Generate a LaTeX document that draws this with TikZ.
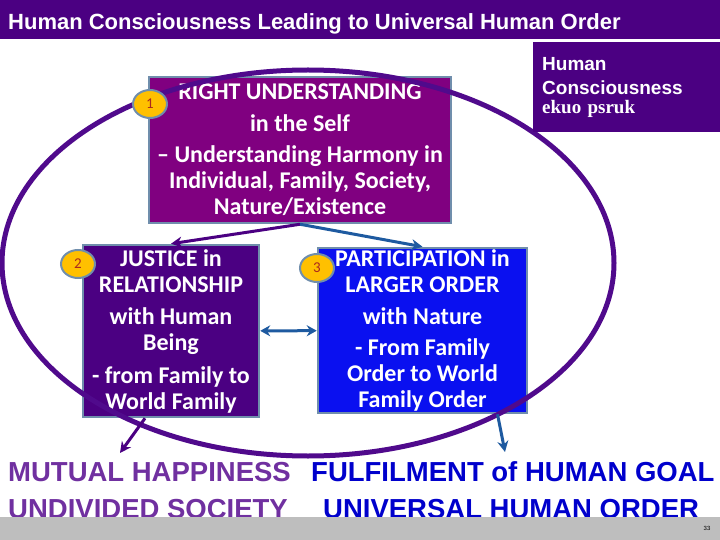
\documentclass[tikz,border=0pt]{standalone}
\usepackage{fontspec}
\setmainfont{Liberation Sans}
\newfontfamily\calibri{Carlito}
\newfontfamily\hindiserif{Liberation Serif}
\usetikzlibrary{positioning,arrows.meta,shapes.geometric}

\definecolor{barIndigo}{RGB}{75,0,130}
\definecolor{ringIndigo}{RGB}{80,10,140}
\definecolor{boxPurple}{RGB}{128,0,128}
\definecolor{boxBlue}{RGB}{10,16,240}
\definecolor{rimGray}{RGB}{112,142,172}
\definecolor{badgeGold}{RGB}{255,192,0}
\definecolor{numRed}{RGB}{170,40,30}
\definecolor{arrowBlue}{RGB}{30,90,160}
\definecolor{txtPurple}{RGB}{112,48,160}
\definecolor{txtBlue}{RGB}{0,0,204}
\definecolor{footGray}{RGB}{190,190,190}

\begin{document}
\begin{tikzpicture}[x=1pt, y=-1pt,
    box/.style={draw=rimGray, line width=2.5pt, text=white, align=center, inner sep=0pt,
                font=\calibri\bfseries\fontsize{24}{26}\selectfont},
    badge/.style={ellipse, draw=rimGray, line width=2pt, fill=badgeGold, text=numRed,
                  minimum width=34pt, minimum height=28pt, inner sep=0pt,
                  font=\calibri\fontsize{15}{15}\selectfont},
    link/.style={line width=3pt, -{Stealth[length=11pt,width=11pt]}},
    outcome/.style={anchor=base west, inner sep=0pt,
                    font=\bfseries\fontsize{27.5}{28}\selectfont}]
  \useasboundingbox (0,0) rectangle (720,540);

  % 标题栏
  \fill[barIndigo] (0,0) rectangle (720,39);
  \node[anchor=base west, inner sep=0pt, text=white, font=\bfseries\fontsize{22}{22}\selectfont]
    (title) at (8,30) {Human Consciousness Leading to Universal Human Order};

  % 1. 正确理解
  \node[box, fill=boxPurple, minimum width=302pt, minimum height=146pt] (understand) at (300,150)
    {RIGHT UNDERSTANDING\\[6pt] in the Self\\[5pt] – Understanding Harmony in\\ Individual, Family, Society,\\ Nature/Existence};

  % 2. 关系中的公正  3. 参与大秩序
  \node[box, fill=barIndigo, minimum width=176pt, minimum height=172pt] (justice) at (171,331)
    {JUSTICE in\\ RELATIONSHIP\\[6pt] with Human\\ Being\\[7pt] - from Family to\\ World Family};
  \node[box, fill=boxBlue, minimum width=209pt, minimum height=165pt] (participate) at (422.5,330.5)
    {PARTICIPATION in\\ LARGER ORDER\\[6pt] with Nature\\[5pt] - From Family\\ Order to World\\ Family Order};

  % 大椭圆
  \draw[ringIndigo, line width=5pt] (308,263) ellipse [x radius=306pt, y radius=193pt];

  % 编号
  \node[badge] (one) at (150,104) {1};
  \node[badge] (two) at (78,264) {2};
  \node[badge] (three) at (317,268) {3};

  % 右上角说明框
  \node[anchor=north west, fill=barIndigo, minimum width=187pt, minimum height=90pt, text width=170pt,
        align=left, inner xsep=9pt, text=white, font=\bfseries\fontsize{19}{24}\selectfont]
    (hcbox) at (533,42) {Human\\ Consciousness\\[-5pt] {\hindiserif ekuo psruk}};

  % 箭头
  \coordinate (happyTip) at (120,453);
  \coordinate (goalTip) at (505,452);
  \draw[link, barIndigo] (understand.south) -- (justice.north);
  \draw[link, arrowBlue] (understand.south) -- (participate.north);
  \draw[line width=3pt, arrowBlue, {Stealth[length=10pt,width=11pt]}-{Stealth[length=10pt,width=11pt]}]
    (justice) -- (participate);
  \draw[link, barIndigo] ([xshift=-26pt]justice.south) -- (happyTip);
  \draw[link, arrowBlue] ([xshift=75pt]participate.south) -- (goalTip);

  % 结果文字
  \node[outcome, text=txtPurple] (happy) at (8,481) {MUTUAL HAPPINESS};
  \node[outcome, text=txtPurple] (society) at (8,518) {UNDIVIDED SOCIETY};
  \node[outcome, text=txtBlue] (goal) at (311,481) {FULFILMENT of HUMAN GOAL};
  \node[outcome, text=txtBlue] (order) at (323,518) {UNIVERSAL HUMAN ORDER};

  % 页脚
  \fill[footGray] (0,517) rectangle (720,540);
  \node[font=\fontsize{6}{6}\selectfont] (pageno) at (707,528) {33};
\end{tikzpicture}
\end{document}
